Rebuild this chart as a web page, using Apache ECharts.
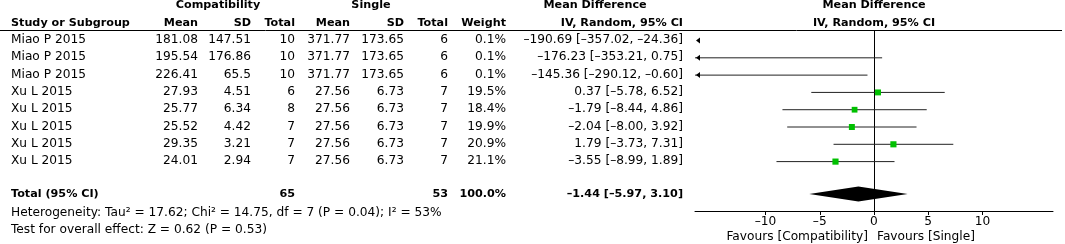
<!DOCTYPE html>
<html>
<head>
<meta charset="utf-8">
<script src="https://cdn.jsdelivr.net/npm/echarts@6/dist/echarts.min.js"></script>
<style>
html,body{margin:0;padding:0;background:#fff}
#chart{width:1065px;height:244px}
</style>
</head>
<body>
<div id="chart"></div>
<script>
// study rows
const studies=['Miao P 2015','Miao P 2015','Miao P 2015','Xu L 2015','Xu L 2015','Xu L 2015','Xu L 2015','Xu L 2015']
const compMean=[181.08,195.54,226.41,27.93,25.77,25.52,29.35,24.01]
const compSD=[147.51,176.86,65.5,4.51,6.34,4.42,3.21,2.94]
const compN=[10,10,10,6,8,7,7,7]
const singMean=[371.77,371.77,371.77,27.56,27.56,27.56,27.56,27.56]
const singSD=[173.65,173.65,173.65,6.73,6.73,6.73,6.73,6.73]
const singN=[6,6,6,7,7,7,7,7]
const weight=[0.1,0.1,0.1,19.5,18.4,19.9,20.9,21.1]
const md=[-190.69,-176.23,-145.36,0.37,-1.79,-2.04,1.79,-3.55]
const ciLow=[-357.02,-353.21,-290.12,-5.78,-8.44,-8.00,-3.73,-8.99]
const ciHigh=[-24.36,0.75,-0.60,6.52,4.86,3.92,7.31,1.89]
// pooled
const total={n1:65,n2:53,weight:100.0,md:-1.44,lo:-5.97,hi:3.10}
const heterogeneity='Heterogeneity: Tau² = 17.62; Chi² = 14.75, df = 7 (P = 0.04); I² = 53%'
const overall='Test for overall effect: Z = 0.62 (P = 0.53)'
const tickValues=[-10,-5,0,5,10]

const FONT='DejaVu Sans'
const FS=12.2, FSB=11.2
const X_MIN=-16.5, X_MAX=16.5
const Y_MIN=-0.58, Y_MAX=9.885
const TOTAL_ROW=8.9

const dash=v=>String(v).replace('-','–')
const f2=v=>dash(v.toFixed(2))
const mdText=(m,l,h)=>`${f2(m)} [${f2(l)}, ${f2(h)}]`

// table text items: x anchor (px), row, text, align, bold
let texts=[]
const add=(x,y,t,align,bold)=>texts.push({x,y,t,align,bold})
// headers
add(218,-2,'Compatibility','center',true)
add(371,-2,'Single','center',true)
add(595,-2,'Mean Difference','center',true)
add(874,-2,'Mean Difference','center',true)
add(11,-1,'Study or Subgroup','left',true)
add(198,-1,'Mean','right',true)
add(251,-1,'SD','right',true)
add(295,-1,'Total','right',true)
add(350,-1,'Mean','right',true)
add(404,-1,'SD','right',true)
add(448,-1,'Total','right',true)
add(506,-1,'Weight','right',true)
add(683,-1,'IV, Random, 95% CI','right',true)
add(874,-1,'IV, Random, 95% CI','center',true)
studies.forEach((s,i)=>{
  add(11,i,s,'left',false)
  add(198,i,String(compMean[i]),'right',false)
  add(251,i,String(compSD[i]),'right',false)
  add(295,i,String(compN[i]),'right',false)
  add(350,i,String(singMean[i]),'right',false)
  add(404,i,String(singSD[i]),'right',false)
  add(448,i,String(singN[i]),'right',false)
  add(506,i,weight[i].toFixed(1)+'%','right',false)
  add(683,i,mdText(md[i],ciLow[i],ciHigh[i]),'right',false)
})
add(11,TOTAL_ROW,'Total (95% CI)','left',true)
add(295,TOTAL_ROW,String(total.n1),'right',true)
add(448,TOTAL_ROW,String(total.n2),'right',true)
add(506,TOTAL_ROW,total.weight.toFixed(1)+'%','right',true)
add(683,TOTAL_ROW,mdText(total.md,total.lo,total.hi),'right',true)
add(11,9.97,heterogeneity,'left',false)
add(11,10.98,overall,'left',false)
add(868,11.37,'Favours [Compatibility]','right',false)
add(877,11.37,'Favours [Single]','left',false)

const chart=echarts.init(document.getElementById('chart'))
chart.setOption({
  animation:false,
  textStyle:{fontFamily:FONT},
  grid:[
    {left:695,top:30,width:358,height:181},
    {left:0,top:30,width:1065,height:181}
  ],
  xAxis:[
    {gridIndex:0,type:'value',min:X_MIN,max:X_MAX,splitLine:{show:false},
     axisLine:{onZero:false,lineStyle:{color:'#000',width:1}},
     axisTick:{customValues:tickValues,length:4,lineStyle:{color:'#000'}},
     axisLabel:{customValues:tickValues,margin:5,color:'#000',fontSize:FS,fontFamily:FONT,
       formatter:v=>dash(v)}},
    {gridIndex:1,type:'value',min:0,max:1065,show:false}
  ],
  yAxis:[
    {gridIndex:0,type:'value',min:Y_MIN,max:Y_MAX,inverse:true,show:false},
    {gridIndex:1,type:'value',min:Y_MIN,max:Y_MAX,inverse:true,show:false}
  ],
  series:[
    // header rule
    {type:'custom',xAxisIndex:1,yAxisIndex:1,silent:true,
     data:[[0,Y_MIN]],
     renderItem:(p,api)=>{
       const a=api.coord([0,Y_MIN]),b=api.coord([1062,Y_MIN])
       return {type:'line',shape:{x1:a[0],y1:a[1]+0.5,x2:b[0],y2:b[1]+0.5},style:{stroke:'#000',lineWidth:1}}
     }},
    // table text
    {type:'custom',xAxisIndex:1,yAxisIndex:1,silent:true,clip:false,
     data:texts.map(t=>[t.x,t.y]),
     renderItem:(p,api)=>{
       const t=texts[p.dataIndex]
       const c=api.coord([t.x,t.y])
       return {type:'text',x:c[0],y:c[1],style:{text:t.t,fill:'#000',
         font:`${t.bold?'bold ':''}${t.bold?FSB:FS}px "${FONT}"`,align:t.align,verticalAlign:'middle'}}
     }},
    // zero line
    {type:'custom',xAxisIndex:0,yAxisIndex:0,silent:true,
     data:[[0,Y_MIN]],
     renderItem:(p,api)=>{
       const a=api.coord([0,Y_MIN]),b=api.coord([0,Y_MAX])
       return {type:'line',shape:{x1:a[0]+0.5,y1:a[1],x2:b[0]+0.5,y2:b[1]},style:{stroke:'#000',lineWidth:1}}
     }},
    // study CIs and squares
    {type:'custom',xAxisIndex:0,yAxisIndex:0,silent:true,clip:false,
     data:md.map((m,i)=>[m,i,ciLow[i],ciHigh[i],weight[i]]),
     renderItem:(p,api)=>{
       const i=p.dataIndex
       const lo=ciLow[i],hi=ciHigh[i],m=md[i]
       const ch=[]
       const y=api.coord([0,i])[1]+0.5
       const xl=api.coord([Math.max(lo,X_MIN),i])[0]
       const xh=api.coord([Math.min(hi,X_MAX),i])[0]
       if(hi>X_MIN){
         ch.push({type:'line',shape:{x1:xl,y1:y,x2:xh,y2:y},style:{stroke:'#222',lineWidth:1}})
       }
       if(lo<X_MIN){
         const x0=api.coord([X_MIN,i])[0]+1
         ch.push({type:'polygon',shape:{points:[[x0,y],[x0+4,y-3],[x0+4,y+3]]},style:{fill:'#000'}})
       }
       if(m>X_MIN&&m<X_MAX){
         const c=api.coord([m,i])
         const s=3+weight[i]*0.15
         ch.push({type:'rect',shape:{x:c[0]-s/2,y:c[1]-s/2+0.5,width:s,height:s},style:{fill:'#00c000'}})
       }
       return {type:'group',children:ch}
     }},
    // pooled diamond
    {type:'custom',xAxisIndex:0,yAxisIndex:0,silent:true,
     data:[[total.md,TOTAL_ROW,total.lo,total.hi]],
     renderItem:(p,api)=>{
       const c=api.coord([api.value(0),api.value(1)])
       const l=api.coord([api.value(2),api.value(1)])
       const h=api.coord([api.value(3),api.value(1)])
       return {type:'polygon',shape:{points:[[l[0],c[1]],[c[0],c[1]-7.5],[h[0],c[1]],[c[0],c[1]+7.5]]},style:{fill:'#000'}}
     }}
  ]
})
</script>
</body>
</html>
